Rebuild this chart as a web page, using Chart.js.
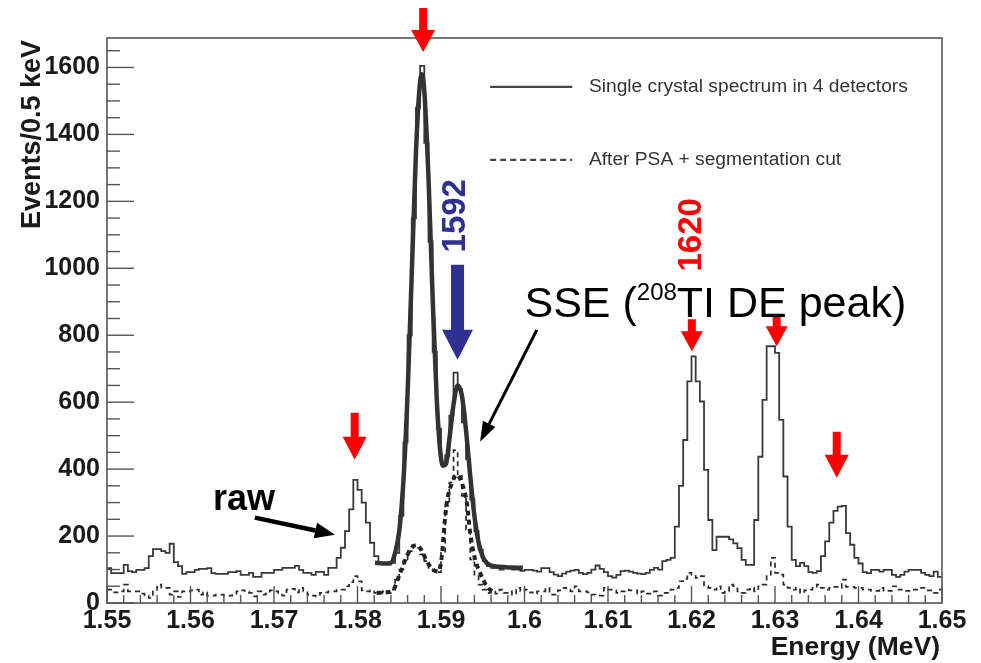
<!DOCTYPE html>
<html><head><meta charset="utf-8">
<script src="https://cdn.jsdelivr.net/npm/chart.js@4.4.1/dist/chart.umd.min.js"></script>
<style>html,body{margin:0;padding:0;background:#fff}canvas{display:block}</style>
</head><body>
<canvas id="c" width="981" height="663"></canvas>
<script>
// ---------- data ----------
const binStart = 1.55;      // MeV, low edge of first bin
const binWidth = 0.0005;    // MeV (0.5 keV)

const rawCounts = [
 104, 89, 89, 89,114, 95, 92, 99, 99,104,
 140,161,161,155,150,177,122,110, 87, 92,
  92, 99,102,102,104, 89, 87, 87, 87, 92,
  92, 95, 84, 84, 90, 78, 78, 90, 90, 90,
  99, 99,105,105,105,111, 99, 90, 90, 84,
  93, 93, 84,105,105,135,165,215,280,368,
 338,300,240,180,140,120,118,115,120,150,
 260,480,800,1150,1480,1605,1375,1080,750,520,
 415,440,560,688,640,540,430,310,215,160,
 125,110,105,108,100,105,105,100,100, 96,
  99, 99, 97, 94,104,104, 92, 85, 80, 88,
  94, 97, 99, 90, 86, 90,100,112,102, 92,
  80, 76, 84, 95, 97, 94, 90, 88, 86, 90,
  99,105,100,125,129,135,228,350,487,662,
 737,662,602,398,248,158,198,198,198,190,
 178,164,129,114,114,248,437,607,767,767,
 747,547,378,228,129,110,120,110, 92, 90,
  95,140,184,240,275,288,290,209,174,135,
 118, 92, 89, 99, 99, 94, 99, 99, 84, 78,
  84, 94, 99, 99, 99, 90, 84, 80, 94, 78
];

const psaCounts = [
  40, 32, 32, 35, 55, 35, 35, 35, 28, 22,
  15, 35, 55, 45, 45, 25, 35, 18, 35, 35,
  38, 40, 25, 32, 22, 22, 25, 25, 22, 22,
  28, 35, 38, 33, 30, 20, 35, 25, 28, 38,
  35, 25, 22, 40, 42, 32, 45, 35, 25, 22,
  20, 30, 32, 35, 35, 40, 40, 50, 62, 80,
  65, 38, 35, 38, 30, 30, 35, 30, 40, 70,
 100,130,155,172,165,145,125,105, 95, 92,
 150,290,360,457,380,320,220,130, 80, 55,
  40, 30, 35, 28, 40, 30, 35, 25, 45, 35,
  40, 32, 28, 35, 35, 45, 25, 25, 38, 45,
  40, 35, 50, 35, 35, 32, 25, 22, 22, 45,
  40, 40, 30, 35, 40, 38, 38, 28, 35, 28,
  28, 35, 22, 30, 30, 40, 45, 65, 72, 90,
  85, 75, 80, 50, 45, 40, 50, 30, 35, 55,
  50, 35, 30, 40, 45, 35, 50, 55, 80,135,
  90, 85, 55, 45, 40, 45, 30, 38, 40, 48,
  55, 45, 40, 45, 48, 45, 70, 48, 48, 45,
  45, 40, 40, 36, 36, 45, 36, 36, 50, 40,
  40, 36, 36, 40, 40, 45, 38, 38, 30, 40
];

// fitted curves
const fitRawE = [1.5821,1.5830,1.5840,1.5845,1.5850,1.5855,1.5860,1.5865,1.5870,1.5874,1.58769,1.5880,1.5885,1.5890,1.5895,1.5900,1.5903,1.5906,1.5910,1.5915,1.5920,1.5925,1.5930,1.5935,1.5940,1.5945,1.5950,1.5955,1.5960,1.5970,1.5985,1.5998];
const fitRawV = [120,118,120,150,215,365,628,986,1345,1530,1580,1530,1272,913,604,433,410,415,489,593,650,620,515,380,261,181,138,119,112,108,106,105];
const fitPsaE = [1.5823,1.5835,1.5843,1.5851,1.5859,1.5866,1.5871,1.5876,1.5882,1.5888,1.5893,1.5897,1.5901,1.5904,1.5907,1.5913,1.5919,1.5925,1.5931,1.5935,1.5941,1.5947,1.5955,1.5965];
const fitPsaV = [30,32,40,89,139,168,173,160,130,105,96,94,140,230,300,358,383,358,298,208,129,89,49,30];

const xTickValues = [1.55,1.56,1.57,1.58,1.59,1.60,1.61,1.62,1.63,1.64,1.65];
const xTickLabels = ["1.55","1.56","1.57","1.58","1.59","1.6","1.61","1.62","1.63","1.64","1.65"];
const yTickValues = [0,200,400,600,800,1000,1200,1400,1600];
const yTickLabels = ["0","200","400","600","800","1000","1200","1400","1600"];
const xMinorStep = 0.002, yMinorStep = 50;
const seriesLabels = ["Single crystal spectrum in 4 detectors","After PSA + segmentation cut"];
const xTitle = "Energy (MeV)";
const yTitle = "Events/0.5 keV";

// ---------- build ----------
function histPoints(counts){
  const pts = counts.map((v,i)=>({x: +(binStart + i*binWidth).toFixed(5), y: v}));
  pts.push({x: +(binStart + counts.length*binWidth).toFixed(5), y: counts[counts.length-1]});
  return pts;
}
function curvePoints(E,V){ return E.map((e,i)=>({x:e,y:V[i]})); }

const FONT = "'Liberation Sans', Arial, Helvetica, sans-serif";
Chart.defaults.font.family = FONT;

const decorPlugin = {
  id: 'decor',
  afterDatasetsDraw(chart){
    const ctx = chart.ctx, a = chart.chartArea, xs = chart.scales.x, ys = chart.scales.y;
    ctx.save();
    ctx.strokeStyle = '#555'; ctx.lineWidth = 1.6;
    ctx.strokeRect(a.left, a.top, a.right-a.left, a.bottom-a.top);
    ctx.lineWidth = 1.4;
    const nX = Math.round((xs.max - xs.min)/xMinorStep);
    for(let k=0;k<=nX;k++){
      const px = xs.getPixelForValue(xs.min + k*xMinorStep);
      const len = (k%5===0) ? 17 : 8;
      ctx.beginPath(); ctx.moveTo(px, a.bottom); ctx.lineTo(px, a.bottom-len); ctx.stroke();
    }
    for(let k=0;k*yMinorStep<=ys.max;k++){
      const py = ys.getPixelForValue(k*yMinorStep);
      const len = (k%4===0) ? 27 : 13;
      ctx.beginPath(); ctx.moveTo(a.left, py); ctx.lineTo(a.left+len, py); ctx.stroke();
    }
    ctx.restore();
  },
  afterDraw(chart){
    const ctx = chart.ctx, a = chart.chartArea, xs = chart.scales.x, ys = chart.scales.y;
    const X = v=>xs.getPixelForValue(v), Y = v=>ys.getPixelForValue(v);
    ctx.save();
    // axis titles
    ctx.fillStyle = '#1a1a1a';
    ctx.font = "bold 26.5px " + FONT;
    ctx.textAlign = 'right'; ctx.textBaseline = 'alphabetic';
    ctx.fillText(xTitle, 940, 655);
    ctx.save();
    ctx.translate(40, 40); ctx.rotate(-Math.PI/2);
    ctx.font = "bold 27px " + FONT;
    ctx.textAlign = 'right';
    ctx.fillText(yTitle, 0, 0);
    ctx.restore();

    // legend
    const ds = chart.data.datasets;
    const legY = [Y(1542), Y(1324)];
    for(let i=0;i<2;i++){
      ctx.strokeStyle = '#444'; ctx.lineWidth = 2.2;
      ctx.setLineDash(i===1 ? [6,4] : []);
      ctx.beginPath(); ctx.moveTo(X(1.59589), legY[i]); ctx.lineTo(X(1.60572), legY[i]); ctx.stroke();
      ctx.setLineDash([]);
      ctx.fillStyle = '#333'; ctx.font = "19.2px " + FONT;
      ctx.textAlign = 'left'; ctx.textBaseline = 'middle';
      ctx.fillText(ds[i].label, X(1.6058)+16, legY[i]);
    }

    // arrows
    function downArrow(e, tipV, stemLen, headLen, headW, stemW, color){
      const x = X(e), tip = Y(tipV), hy = tip-headLen, ty = hy-stemLen;
      ctx.fillStyle = color; ctx.beginPath();
      ctx.moveTo(x-stemW/2, ty); ctx.lineTo(x+stemW/2, ty); ctx.lineTo(x+stemW/2, hy);
      ctx.lineTo(x+headW/2, hy); ctx.lineTo(x, tip); ctx.lineTo(x-headW/2, hy);
      ctx.lineTo(x-stemW/2, hy); ctx.closePath(); ctx.fill();
    }
    const RED = '#ff0000', BLUE = '#2e3192';
    downArrow(1.58786, 1646, 22, 22, 24, 8, RED);
    downArrow(1.57966, 428, 24, 23, 24, 8, RED);
    downArrow(1.62004, 752, 12, 20, 22, 8, RED);
    downArrow(1.63020, 767, 12, 20, 22, 8, RED);
    downArrow(1.63739, 374, 23, 23, 24, 8, RED);
    downArrow(1.59198, 727, 65, 30, 31, 13, BLUE);

    function slantArrow(e1,v1,e2,v2,w,headLen,headW){
      const x1=X(e1), y1=Y(v1), x2=X(e2), y2=Y(v2);
      const ang = Math.atan2(y2-y1, x2-x1);
      const bx = x2 - headLen*Math.cos(ang), by = y2 - headLen*Math.sin(ang);
      ctx.strokeStyle = '#000'; ctx.lineWidth = w; ctx.lineCap='butt';
      ctx.beginPath(); ctx.moveTo(x1,y1); ctx.lineTo(bx,by); ctx.stroke();
      ctx.fillStyle = '#000'; ctx.beginPath();
      ctx.moveTo(x2,y2);
      ctx.lineTo(bx + headW/2*Math.sin(ang), by - headW/2*Math.cos(ang));
      ctx.lineTo(bx - headW/2*Math.sin(ang), by + headW/2*Math.cos(ang));
      ctx.closePath(); ctx.fill();
    }
    slantArrow(1.60148, 816, 1.59468, 482, 3, 20, 14);
    slantArrow(1.56771, 255, 1.57730, 204, 4.5, 20, 16);

    function vText(txt, e, v, color){
      ctx.save(); ctx.translate(X(e), Y(v)); ctx.rotate(-Math.PI/2);
      ctx.fillStyle = color; ctx.font = "bold 33px " + FONT;
      ctx.textAlign = 'center'; ctx.textBaseline = 'middle';
      ctx.fillText(txt, 0, 0); ctx.restore();
    }
    vText("1592", 1.5918, 1157, BLUE);
    vText("1620", 1.6200, 1100, RED);

    // SSE label
    let x0 = X(1.6000), yb = Y(855);
    ctx.fillStyle = '#000'; ctx.textAlign = 'left'; ctx.textBaseline = 'alphabetic';
    ctx.font = "43px " + FONT; ctx.fillText("SSE (", x0, yb);
    x0 += ctx.measureText("SSE (").width;
    ctx.font = "24px " + FONT; ctx.fillText("208", x0, yb-17);
    x0 += ctx.measureText("208").width;
    ctx.font = "43px " + FONT; ctx.fillText("TI DE peak)", x0, yb);

    ctx.font = "bold 36px " + FONT;
    ctx.fillText("raw", X(1.56269), Y(279));
    ctx.restore();
  }
};

new Chart(document.getElementById('c'), {
  type: 'line',
  data: {
    datasets: [
      {label: seriesLabels[0], data: histPoints(rawCounts), stepped: 'before',
       borderColor: '#3a3a3a', borderWidth: 1.8, pointRadius: 0, fill: false, order: 4},
      {label: seriesLabels[1], data: histPoints(psaCounts), stepped: 'before',
       borderColor: '#2a2a2a', borderWidth: 1.7, borderDash: [5,4], pointRadius: 0, fill: false, order: 3},
      {label: 'fit raw', data: curvePoints(fitRawE, fitRawV), cubicInterpolationMode: 'monotone',
       borderColor: '#333', borderWidth: 4.5, pointRadius: 0, fill: false, order: 2},
      {label: 'fit psa', data: curvePoints(fitPsaE, fitPsaV), cubicInterpolationMode: 'monotone',
       borderColor: '#222', borderWidth: 4, borderDash: [5,4], pointRadius: 0, fill: false, order: 1}
    ]
  },
  options: {
    responsive: false, animation: false, events: [],
    layout: {padding: {top: 38, right: 39, left: 0, bottom: 0}},
    plugins: {legend: {display: false}, tooltip: {enabled: false}},
    scales: {
      x: {type: 'linear', min: 1.55, max: 1.65,
          afterFit(s){ s.height = 60; },
          afterBuildTicks(s){ s.ticks = xTickValues.map(v=>({value:v})); },
          ticks: {autoSkip: false, maxRotation: 0, minRotation: 0, padding: 3, color: '#1a1a1a',
                  font: {size: 25, weight: 'bold'}, callback: (v,i)=>xTickLabels[i]},
          grid: {display: false, drawTicks: false}, border: {display: false}},
      y: {type: 'linear', min: 0, max: 1688,
          afterFit(s){ s.width = 107; },
          afterBuildTicks(s){ s.ticks = yTickValues.map(v=>({value:v})); },
          ticks: {padding: 7, color: '#1a1a1a', font: {size: 25, weight: 'bold'}, callback: (v,i)=>yTickLabels[i]},
          grid: {display: false, drawTicks: false}, border: {display: false}}
    }
  },
  plugins: [decorPlugin]
});
</script>
</body></html>
